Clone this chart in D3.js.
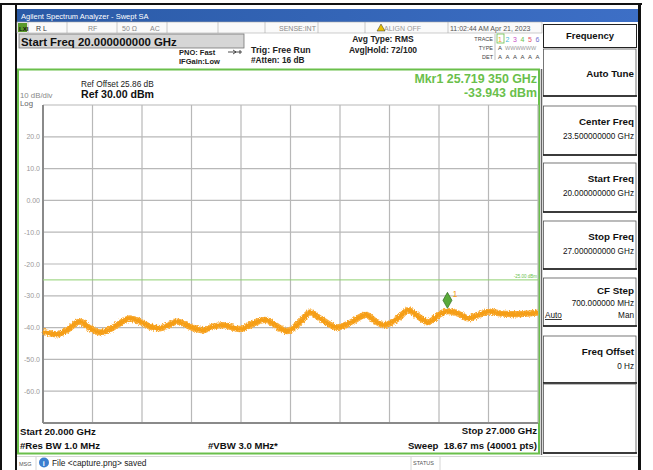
<!DOCTYPE html>
<html>
<head>
<meta charset="utf-8">
<script src="https://cdn.jsdelivr.net/npm/d3@7"></script>
<style>
  body { margin: 0; background: #fff; }
  svg text { font-family: "Liberation Sans", Arial, sans-serif; }
</style>
</head>
<body>
<div id="chart"></div>
<script>
// trace (GHz / dBm)
var freqGHz = [20.000, 20.099, 20.198, 20.339, 20.523, 20.665, 20.806, 20.947, 21.089, 21.230,
  21.372, 21.513, 21.655, 21.796, 21.895, 22.079, 22.263, 22.404, 22.545, 22.687,
  22.786, 22.927, 23.139, 23.281, 23.451, 23.634, 23.776, 23.917, 24.158, 24.341,
  24.568, 24.695, 24.822, 25.048, 25.162, 25.331, 25.444, 25.614, 25.727, 25.897,
  26.010, 26.180, 26.321, 26.463, 26.675, 26.887, 27.000];
var levelDbm = [-41.3, -41.8, -42.1, -40.8, -38.1, -40.2, -41.5, -40.5, -38.6, -37.1,
  -38.1, -39.7, -40.2, -39.0, -38.1, -39.7, -40.8, -39.7, -39.2, -40.0,
  -40.5, -39.2, -37.6, -39.2, -41.1, -38.3, -35.2, -37.1, -39.9, -38.5,
  -36.0, -37.9, -39.2, -36.6, -34.5, -36.9, -38.3, -35.8, -34.8, -35.8,
  -37.1, -35.8, -35.0, -35.5, -35.8, -35.5, -35.3];

var yTickVals = [20, 10, 0, -10, -20, -30, -40, -50, -60];
var yTickLabels = ["20.0", "10.0", "0.00", "-10.0", "-20.0", "-30.0", "-40.0", "-50.0", "-60.0"];
var xGridVals = [20, 20.7, 21.4, 22.1, 22.8, 23.5, 24.2, 24.9, 25.6, 26.3, 27];

var markerFreq = 25.71935;
var markerLevel = -33.943;
var displayLine = -25;

var softkeys = [
  {title: "Auto Tune", value: ""},
  {title: "Center Freq", value: "23.500000000 GHz"},
  {title: "Start Freq", value: "20.000000000 GHz"},
  {title: "Stop Freq", value: "27.000000000 GHz"},
  {title: "CF Step", value: "700.000000 MHz"},
  {title: "Freq Offset", value: "0 Hz"}
];

var svg = d3.select("#chart").append("svg")
  .attr("width", 653)
  .attr("height", 470);

var defs = svg.append("defs");
// jitter filter so the thick trace gets the ragged look of the averaged noise
var noise = defs.append("filter").attr("id", "jit")
  .attr("x", "-2%").attr("y", "-60%").attr("width", "104%").attr("height", "220%");
noise.append("feTurbulence").attr("type", "fractalNoise").attr("baseFrequency", "1.1 0.6")
  .attr("numOctaves", 2).attr("seed", 3).attr("result", "n");
noise.append("feDisplacementMap").attr("in", "SourceGraphic").attr("in2", "n")
  .attr("scale", 4).attr("xChannelSelector", "R").attr("yChannelSelector", "G");

// outer frame lines
svg.append("rect").attr("x", 0).attr("y", 3).attr("width", 642).attr("height", 2).attr("fill", "#111");
svg.append("rect").attr("x", 0).attr("y", 3).attr("width", 2).attr("height", 467).attr("fill", "#111");
svg.append("rect").attr("x", 15).attr("y", 5).attr("width", 2).attr("height", 465).attr("fill", "#111");
svg.append("rect").attr("x", 638).attr("y", 5).attr("width", 3).attr("height", 465).attr("fill", "#111");

// title bar
var grad = defs.append("linearGradient").attr("id", "tb");
grad.append("stop").attr("offset", "0%").attr("stop-color", "#2a5aa6");
grad.append("stop").attr("offset", "100%").attr("stop-color", "#3d6fc6");
svg.append("rect").attr("x", 17).attr("y", 9).attr("width", 621).attr("height", 13).attr("fill", "url(#tb)");
svg.append("text").attr("x", 21).attr("y", 19).attr("fill", "#fff").attr("font-size", 7.5)
  .text("Agilent Spectrum Analyzer - Swept SA");

// status row
svg.append("rect").attr("x", 17).attr("y", 22).attr("width", 525).attr("height", 11).attr("fill", "#fafafa").attr("stroke", "#aaa").attr("stroke-width", 0.6);
[28, 67, 117, 167, 218, 265, 318, 365, 448].forEach(function(x) {
  svg.append("line").attr("x1", x).attr("x2", x).attr("y1", 22).attr("y2", 33).attr("stroke", "#aaa").attr("stroke-width", 0.6);
});
svg.append("rect").attr("x", 18).attr("y", 23).attr("width", 9).attr("height", 9).attr("fill", "#5a9a2a");
svg.append("text").attr("x", 19).attr("y", 30.5).attr("font-size", 6).attr("font-weight", "bold").attr("fill", "#111").text("LXI");
var statusItems = [
  {x: 36, t: "R L", c: "#333"}, {x: 88, t: "RF", c: "#888"}, {x: 122, t: "50 Ω", c: "#888"},
  {x: 150, t: "AC", c: "#888"}, {x: 279, t: "SENSE:INT", c: "#888"}, {x: 384, t: "ALIGN OFF", c: "#999"},
  {x: 450, t: "11:02:44 AM Apr 21, 2023", c: "#555"}
];
svg.selectAll(".st").data(statusItems).enter().append("text")
  .attr("x", d => d.x).attr("y", 31).attr("font-size", 7).attr("fill", d => d.c).text(d => d.t);
svg.append("path").attr("d", "M377,31 L381,24 L385,31 Z").attr("fill", "#e8c000").attr("stroke", "#333").attr("stroke-width", 0.5);

// start freq box
svg.append("rect").attr("x", 19).attr("y", 34).attr("width", 225).attr("height", 14).attr("fill", "#d6d6d6").attr("stroke", "#777").attr("stroke-width", 0.8);
svg.append("text").attr("x", 21).attr("y", 45.5).attr("font-size", 11.4).attr("font-weight", "bold").attr("fill", "#111")
  .text("Start Freq 20.000000000 GHz");

// settings text
var info = [
  {x: 179, y: 55, t: "PNO: Fast", s: 7.5}, {x: 179, y: 64, t: "IFGain:Low", s: 7.5},
  {x: 251, y: 53, t: "Trig: Free Run", s: 8.8}, {x: 251, y: 63, t: "#Atten: 16 dB", s: 8.3}
];
svg.selectAll(".inf").data(info).enter().append("text")
  .attr("x", d => d.x).attr("y", d => d.y).attr("font-size", d => d.s).attr("font-weight", "bold").attr("fill", "#222").text(d => d.t);
svg.append("path").attr("d", "M228,52 L242,52 M233,50 L236,52 L233,54 M240,50 L240,54").attr("stroke", "#222").attr("stroke-width", 0.8).attr("fill", "none");
svg.append("text").attr("x", 383).attr("y", 42).attr("text-anchor", "middle").attr("font-size", 8.5).attr("font-weight", "bold").attr("fill", "#222").text("Avg Type: RMS");
svg.append("text").attr("x", 383).attr("y", 53).attr("text-anchor", "middle").attr("font-size", 8.5).attr("font-weight", "bold").attr("fill", "#222").text("Avg|Hold: 72/100");

// trace table
[["TRACE", 41], ["TYPE", 50], ["DET", 59]].forEach(function(r) {
  svg.append("text").attr("x", 493).attr("y", r[1]).attr("text-anchor", "end").attr("font-size", 5.5).attr("fill", "#444").text(r[0]);
});
svg.append("line").attr("x1", 495).attr("x2", 495).attr("y1", 34).attr("y2", 60).attr("stroke", "#999").attr("stroke-width", 0.6);
var traceColors = ["#f7a21b", "#3cb8d8", "#c84fc8", "#6cc04a", "#e8506a", "#7070d0"];
svg.append("rect").attr("x", 497).attr("y", 34).attr("width", 7).attr("height", 9).attr("fill", "none").attr("stroke", "#6abf4b").attr("stroke-width", 0.8);
traceColors.forEach(function(c, i) {
  svg.append("text").attr("x", 498 + i * 7.5).attr("y", 41.5).attr("font-size", 7).attr("fill", c).text(i + 1);
  svg.append("text").attr("x", 498 + i * 7.5).attr("y", 59).attr("font-size", 6).attr("fill", "#444").text("A");
});
svg.append("text").attr("x", 498).attr("y", 50).attr("font-size", 6).attr("fill", "#444").text("A");
svg.append("text").attr("x", 505).attr("y", 50).attr("font-size", 5.5).attr("fill", "#999").text("WWWWWW");

// plot frame
svg.append("rect").attr("x", 18).attr("y", 69.5).attr("width", 521).attr("height", 384).attr("fill", "#fff").attr("stroke", "#6abf4b").attr("stroke-width", 2);
svg.append("line").attr("x1", 541.5).attr("x2", 541.5).attr("y1", 69).attr("y2", 455).attr("stroke", "#666").attr("stroke-width", 1.5);

var x = d3.scaleLinear().domain([20, 27]).range([43, 538]);
var y = d3.scaleLinear().domain([-70, 30]).range([423, 105]);

// grid
svg.append("g").selectAll("line").data(xGridVals).enter().append("line")
  .attr("x1", d => x(d)).attr("x2", d => x(d)).attr("y1", y(30)).attr("y2", y(-70))
  .attr("stroke", "#b8b8b8").attr("stroke-width", 1.2);
svg.append("g").selectAll("line").data(d3.range(-70, 31, 10)).enter().append("line")
  .attr("x1", x(20)).attr("x2", x(27)).attr("y1", d => y(d)).attr("y2", d => y(d))
  .attr("stroke", "#b8b8b8").attr("stroke-width", 1.2);
svg.append("line").attr("x1", x(20)).attr("x2", x(20)).attr("y1", y(30)).attr("y2", y(-70)).attr("stroke", "#8a8a8a").attr("stroke-width", 2);
svg.append("line").attr("x1", x(20)).attr("x2", x(27)).attr("y1", y(-70)).attr("y2", y(-70)).attr("stroke", "#8a8a8a").attr("stroke-width", 2);

// y tick labels
svg.append("g").selectAll("text").data(yTickVals).enter().append("text")
  .attr("x", 40).attr("y", d => y(d) + 2.5).attr("text-anchor", "end")
  .attr("font-size", 7).attr("fill", "#999").text((d, i) => yTickLabels[i]);

// display line
svg.append("line").attr("x1", x(20)).attr("x2", x(27)).attr("y1", y(displayLine)).attr("y2", y(displayLine))
  .attr("stroke", "#8fd070").attr("stroke-width", 1);
svg.append("text").attr("x", 537).attr("y", y(displayLine) - 2).attr("text-anchor", "end")
  .attr("font-size", 4.5).attr("fill", "#6abf4b").text("-25.00 dBm");

// trace
var pts = freqGHz.map((f, i) => [f, levelDbm[i]]);
var line = d3.line().x(d => x(d[0])).y(d => y(d[1])).curve(d3.curveMonotoneX);
var tr = svg.append("g").attr("filter", "url(#jit)");
tr.append("path").datum(pts).attr("d", line).attr("fill", "none")
  .attr("stroke", "#f9ad3a").attr("stroke-width", 6.3).attr("stroke-linejoin", "round");
tr.append("path").datum(pts).attr("d", line).attr("fill", "none")
  .attr("stroke", "#f59e16").attr("stroke-width", 3.8).attr("stroke-linejoin", "round");

// marker
var mx = x(markerFreq), my = y(markerLevel);
svg.append("path").attr("d", `M${mx},${my} L${mx - 4.5},${my - 8} L${mx},${my - 16} L${mx + 4.5},${my - 8} Z`)
  .attr("fill", "#5aaa3a").attr("stroke", "#2f6a1f").attr("stroke-width", 0.7);
svg.append("text").attr("x", mx + 5).attr("y", my - 11).attr("font-size", 9).attr("fill", "#f7a01a").text("1");

// plot annotations
svg.append("text").attr("x", 81).attr("y", 87).attr("font-size", 8.3).attr("fill", "#222").text("Ref Offset 25.86 dB");
svg.append("text").attr("x", 81).attr("y", 98).attr("font-size", 10.6).attr("font-weight", "bold").attr("fill", "#111").text("Ref 30.00 dBm");
svg.append("text").attr("x", 20).attr("y", 97.5).attr("font-size", 7.8).attr("fill", "#888").text("10 dB/div");
svg.append("text").attr("x", 20).attr("y", 106).attr("font-size", 7.8).attr("fill", "#666").text("Log");
svg.append("text").attr("x", 537).attr("y", 83).attr("text-anchor", "end").attr("font-size", 12.4).attr("font-weight", "bold").attr("fill", "#6abf4b").text("Mkr1 25.719 350 GHz");
svg.append("text").attr("x", 537).attr("y", 96.5).attr("text-anchor", "end").attr("font-size", 12.4).attr("font-weight", "bold").attr("fill", "#6abf4b").text("-33.943 dBm");

var bottom = [
  {x: 20, y: 435, t: "Start 20.000 GHz", a: "start"},
  {x: 20, y: 448.5, t: "#Res BW 1.0 MHz", a: "start"},
  {x: 208, y: 448.5, t: "#VBW 3.0 MHz*", a: "start"},
  {x: 537, y: 434, t: "Stop 27.000 GHz", a: "end"},
  {x: 537, y: 449, t: "Sweep  18.67 ms (40001 pts)", a: "end"}
];
svg.selectAll(".bt").data(bottom).enter().append("text")
  .attr("x", d => d.x).attr("y", d => d.y).attr("text-anchor", d => d.a)
  .attr("font-size", 9.6).attr("font-weight", "bold").attr("fill", "#111")
  .style("white-space", "pre").text(d => d.t);

// message bar
svg.append("line").attr("x1", 17).attr("x2", 638).attr("y1", 456.5).attr("y2", 456.5).attr("stroke", "#ccc").attr("stroke-width", 0.8);
svg.append("text").attr("x", 19).attr("y", 466).attr("font-size", 5.5).attr("fill", "#555").text("MSG");
svg.append("line").attr("x1", 36).attr("x2", 36).attr("y1", 457).attr("y2", 470).attr("stroke", "#ccc").attr("stroke-width", 0.8);
svg.append("circle").attr("cx", 44).attr("cy", 462.5).attr("r", 5).attr("fill", "#3b7fd0");
svg.append("text").attr("x", 42.8).attr("y", 466).attr("font-size", 7).attr("font-weight", "bold").attr("fill", "#fff").text("i");
svg.append("text").attr("x", 52).attr("y", 466).attr("font-size", 8.4).attr("fill", "#222").text("File <capture.png> saved");
svg.append("line").attr("x1", 411).attr("x2", 411).attr("y1", 457).attr("y2", 470).attr("stroke", "#ccc").attr("stroke-width", 0.8);
svg.append("line").attr("x1", 440).attr("x2", 440).attr("y1", 457).attr("y2", 470).attr("stroke", "#ccc").attr("stroke-width", 0.8);
svg.append("text").attr("x", 413).attr("y", 465).attr("font-size", 5.5).attr("fill", "#555").text("STATUS");

// softkey panel
svg.append("rect").attr("x", 543).attr("y", 23).attr("width", 94).attr("height", 433).attr("fill", "#fff");
svg.append("rect").attr("x", 543.5).attr("y", 24.5).attr("width", 93).attr("height", 23).attr("fill", "#fff").attr("stroke", "#222").attr("stroke-width", 1);
svg.append("text").attr("x", 590).attr("y", 38.5).attr("text-anchor", "middle").attr("font-size", 9.5).attr("font-weight", "bold").attr("fill", "#111").text("Frequency");

var keyTops = [49, 106, 163, 221, 278, 336];
var keyH = [47, 49, 49, 48, 48, 47];
softkeys.forEach(function(k, i) {
  var t = keyTops[i], h = keyH[i];
  svg.append("rect").attr("x", 543.5).attr("y", t).attr("width", 92.5).attr("height", h).attr("fill", "#fff")
    .attr("stroke", "#555").attr("stroke-width", 0.8);
  svg.append("line").attr("x1", 543).attr("x2", 637).attr("y1", t + h).attr("y2", t + h).attr("stroke", "#111").attr("stroke-width", 1.6);
  var ty = k.value ? t + 19 : t + 28;
  if (i === 4) ty = t + 16;
  svg.append("text").attr("x", 634).attr("y", ty).attr("text-anchor", "end").attr("font-size", 9.8).attr("font-weight", "bold").attr("fill", "#111").text(k.title);
  if (k.value) {
    svg.append("text").attr("x", 634).attr("y", ty + (i === 4 ? 12 : 14)).attr("text-anchor", "end").attr("font-size", 8.2).attr("fill", "#111").text(k.value);
  }
});
svg.append("text").attr("x", 545).attr("y", 318).attr("font-size", 8.2).attr("fill", "#111").attr("text-decoration", "underline").text("Auto");
svg.append("text").attr("x", 634).attr("y", 318).attr("text-anchor", "end").attr("font-size", 8.2).attr("fill", "#111").text("Man");
svg.append("rect").attr("x", 543.5).attr("y", 384).attr("width", 92.5).attr("height", 69).attr("fill", "#fff").attr("stroke", "#555").attr("stroke-width", 0.8);
svg.append("line").attr("x1", 543).attr("x2", 637).attr("y1", 453).attr("y2", 453).attr("stroke", "#111").attr("stroke-width", 1.6);
</script>
</body>
</html>
